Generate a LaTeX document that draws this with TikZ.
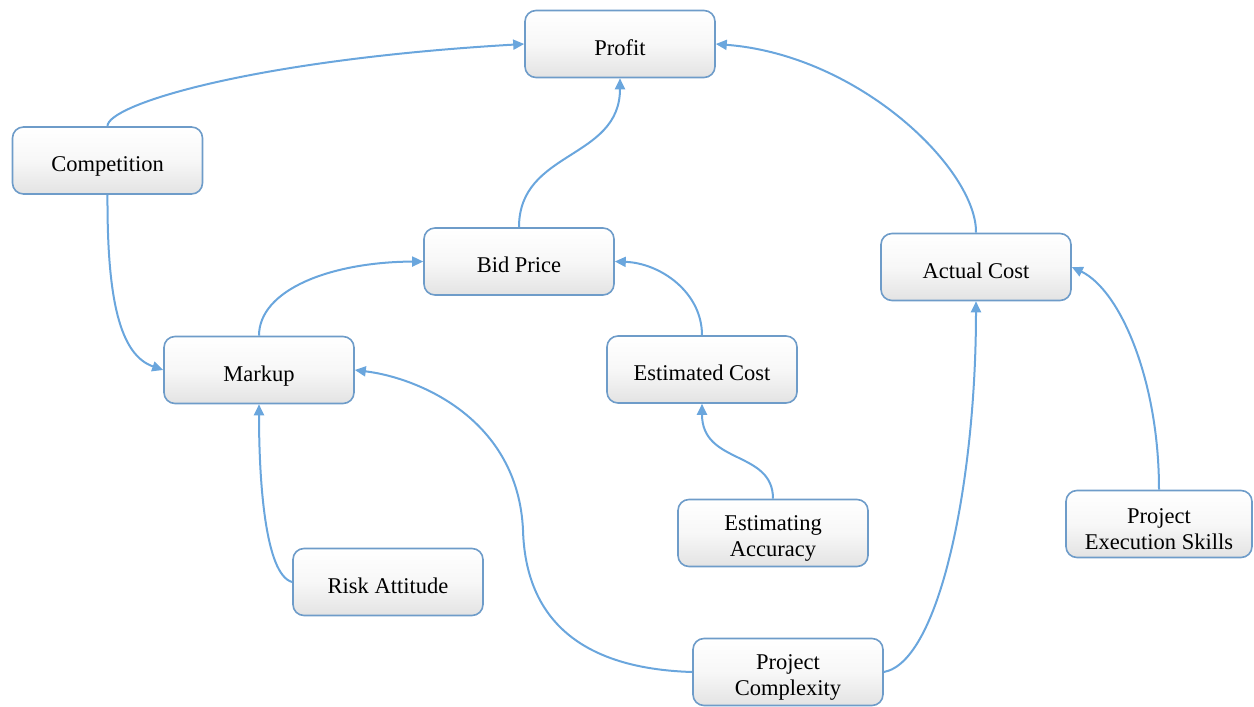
\documentclass[tikz,border=0pt]{standalone}
\usepackage{fontspec}
\setmainfont{Liberation Serif}
\usetikzlibrary{arrows.meta}
\definecolor{boxline}{HTML}{6E9CC9}
\definecolor{linkline}{HTML}{6AA6DD}
\newcommand{\topstrut}{\rule{0pt}{26pt}}
\begin{document}
\begin{tikzpicture}[x=1pt,y=-1pt,
  factor/.style={draw=boxline, line width=1.6pt, rounded corners=11pt,
    top color=white, bottom color=black!11, middle color=white!97!black,
    minimum width=190pt, minimum height=67pt, inner sep=0pt,
    align=center, font=\fontsize{22.5}{26}\selectfont,
    text height=27pt, text depth=5pt},
  twoline/.style={text height=, text depth=},
  link/.style={draw=linkline, line width=2pt,
    -{Triangle[length=11pt,width=10pt]}}]
\useasboundingbox (0,0) rectangle (1254,707);

% factors
\node[factor] (profit) at (620,44) {Profit};
\node[factor] (comp)   at (107.5,160.5) {Competition};
\node[factor] (bid)    at (519,261.5) {Bid Price};
\node[factor] (actual) at (976,267) {Actual Cost};
\node[factor] (markup) at (259,370) {Markup};
\node[factor] (estc)   at (702,369.5) {Estimated Cost};
\node[factor, twoline] (acc) at (773,533) {\topstrut Estimating\\Accuracy};
\node[factor, twoline, minimum width=186pt] (skills) at (1159,524) {\topstrut Project\\Execution Skills};
\node[factor] (risk)   at (388,582) {Risk Attitude};
\node[factor, twoline] (cplx) at (788,672) {\topstrut Project\\Complexity};

% influences
\draw[link] (comp.north) .. controls (107,105) and (250,60) .. (profit.west);
\draw[link] (comp.south) .. controls (107,300) and (120,355) .. (markup.west);
\draw[link] (bid.north) .. controls (519,150) and (620,160) .. (profit.south);
\draw[link] (actual.north) .. controls (977,170) and (860,55) .. (profit.east);
\draw[link] (markup.north) .. controls (259,290) and (330,262) .. (bid.west);
\draw[link] (estc.north) .. controls (702,292) and (660,263) .. (bid.east);
\draw[link] (acc.north) .. controls (773,450) and (702,465) .. (estc.south);
\draw[link] (risk.west) .. controls (265,575) and (259,480) .. (markup.south);
\draw[link] (cplx.west) .. controls (560,668) and (525,600) .. (523,530)
  .. controls (518,420) and (420,378) .. (markup.east);
\draw[link] (cplx.east) .. controls (940,662) and (976,480) .. (actual.south);
\draw[link] (skills.north) .. controls (1159,380) and (1120,290) .. (actual.east);
\end{tikzpicture}
\end{document}
